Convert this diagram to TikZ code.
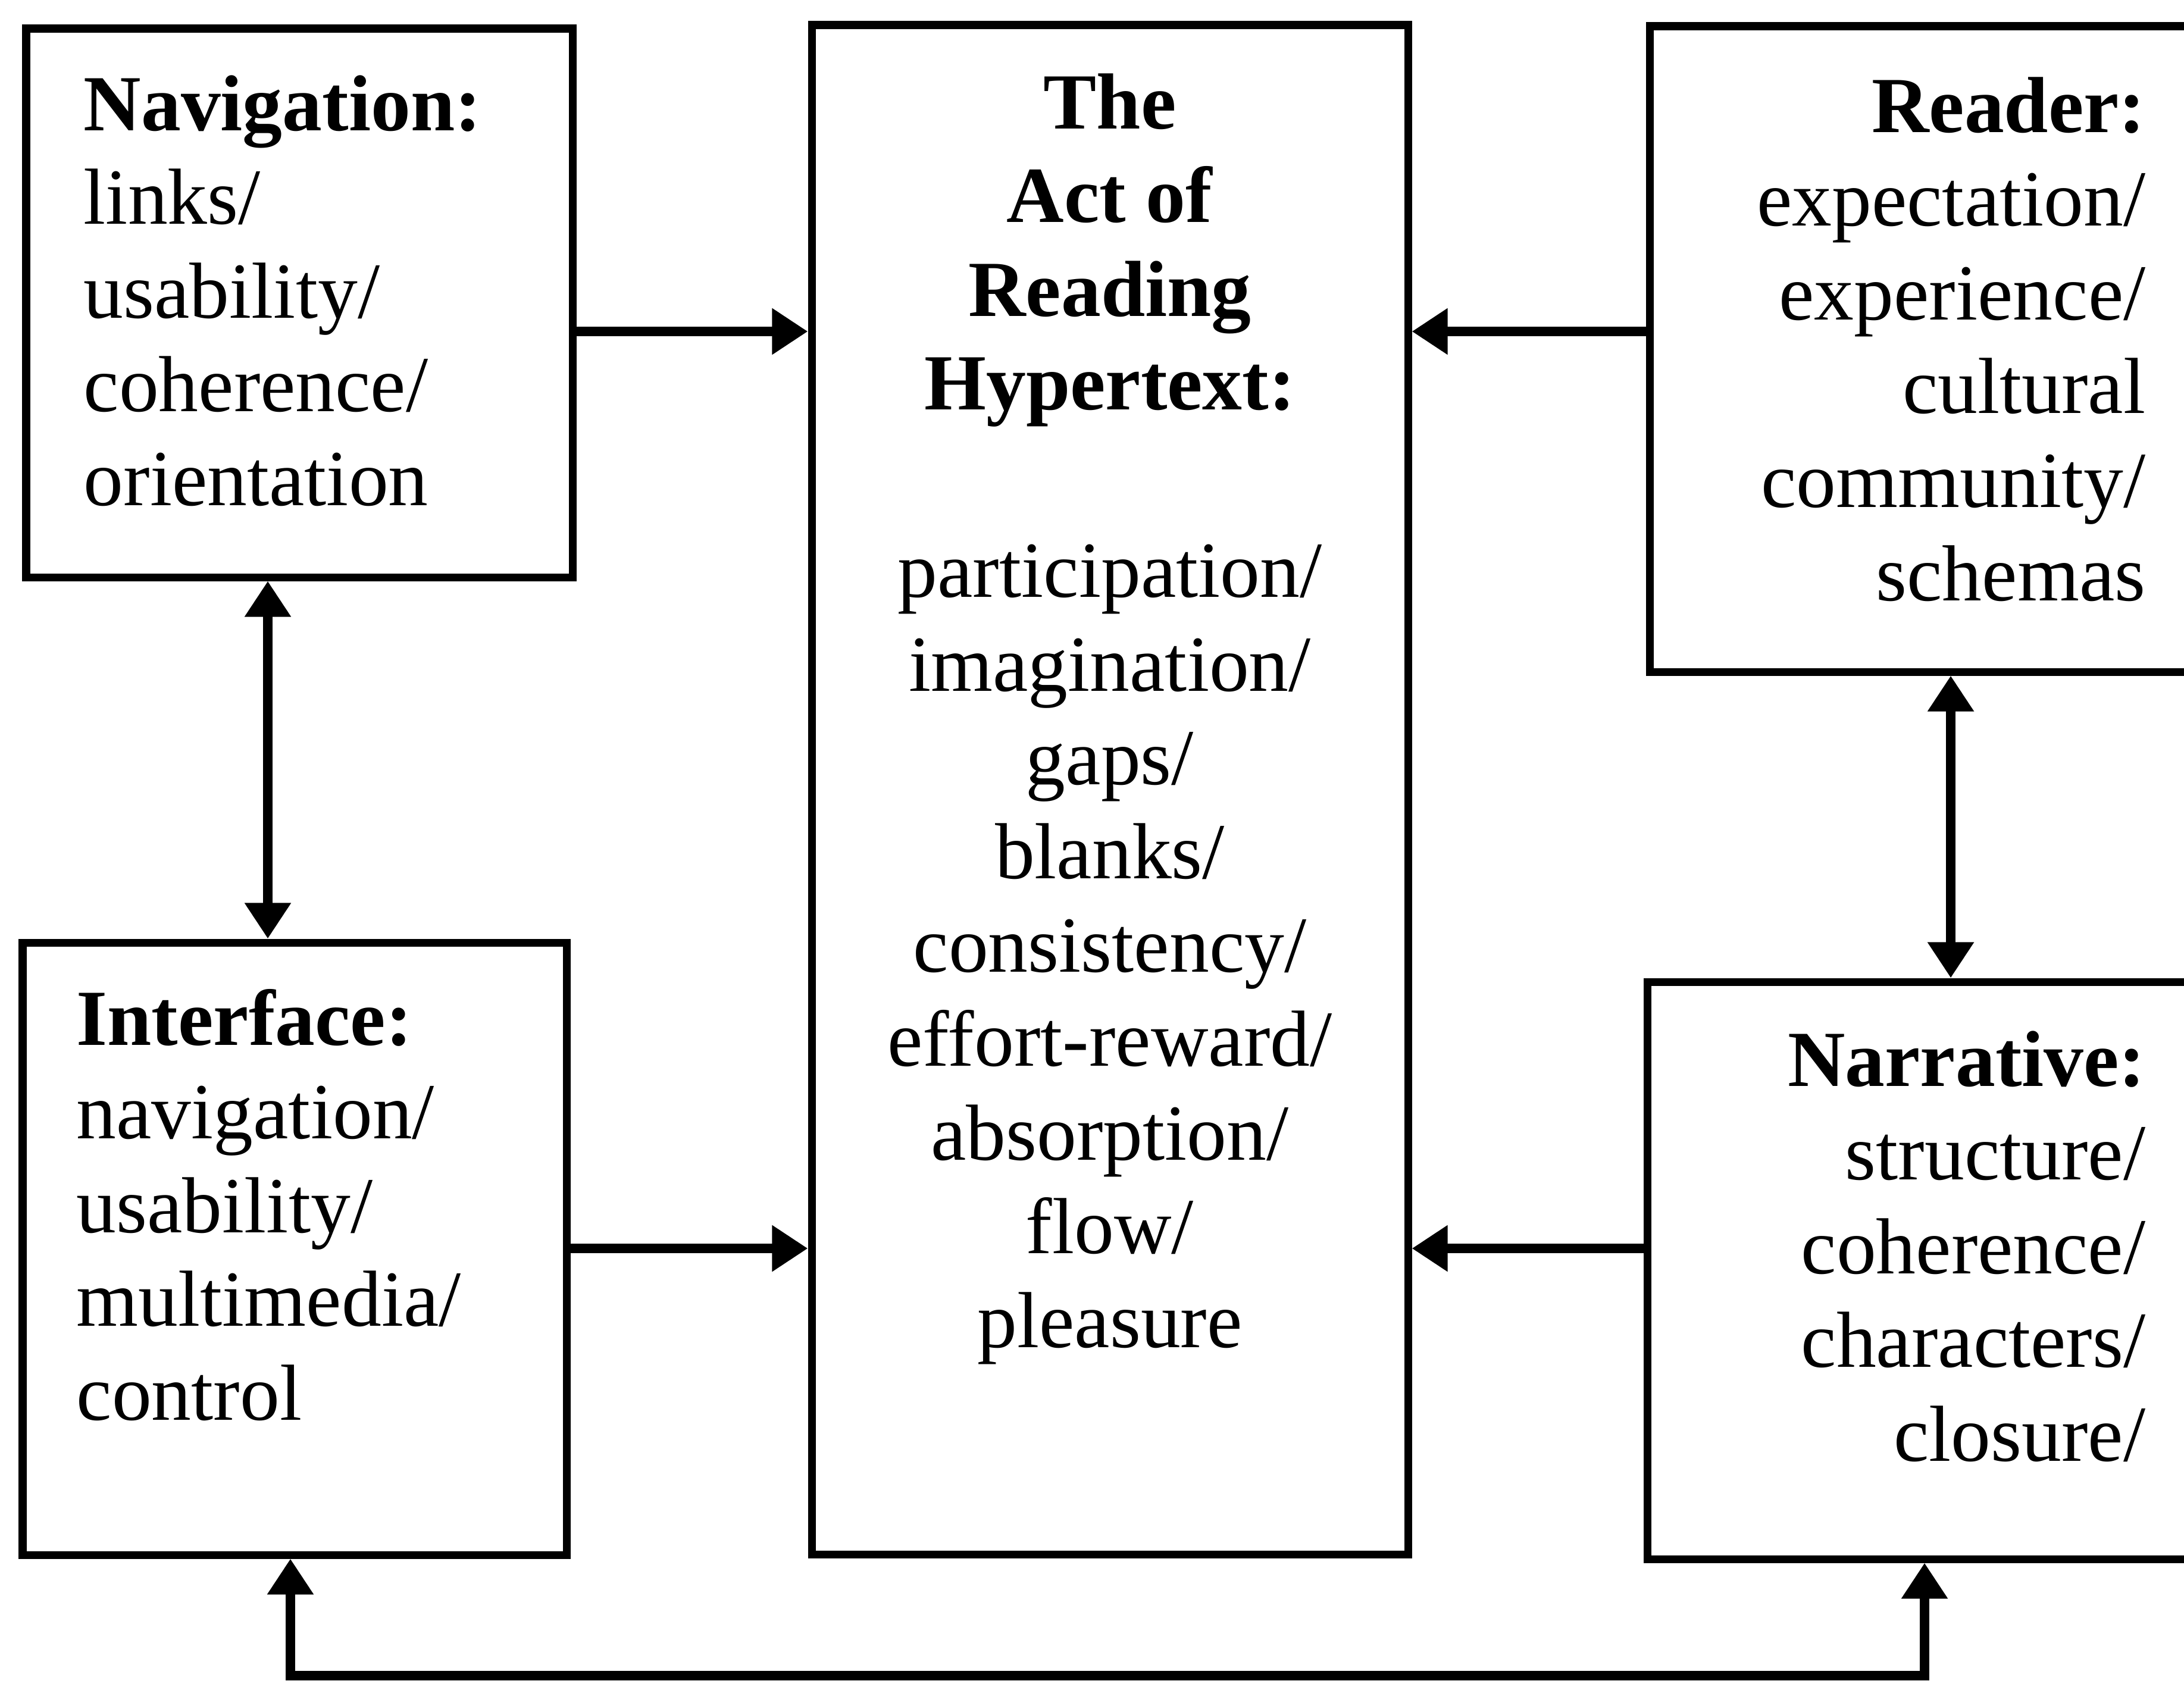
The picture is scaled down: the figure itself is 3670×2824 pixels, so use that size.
\documentclass[tikz,border=0pt]{standalone}
\usepackage{fontspec}
\setmainfont{Liberation Serif}
\usetikzlibrary{arrows.meta,fit}
\begin{document}
\begin{tikzpicture}[x=0.01cm,y=-0.01cm,
  box/.style={draw, line width=3.7pt, inner sep=0pt},
  txt/.style={inner sep=0pt, font=\fontsize{38}{44.8}\selectfont},
  conn/.style={line width=4.5pt},
  tip/.tip={Triangle[length=0.6cm,width=0.74cm]},
  arr/.style={conn, -tip},
  dbl/.style={conn, tip-tip}
]
\useasboundingbox (0,0) rectangle (3670,2824);

% boxes
\node[box, fit={(44,48) (962,970)}] (nav) {};
\node[box, fit={(38,1584) (952,2613)}] (iface) {};
\node[box, fit={(1364,42) (2366,2612)}] (act) {};
\node[box, fit={(2772,44) (3760,1129)}] (reader) {};
\node[box, fit={(2768,1650) (3760,2620)}] (narr) {};

% texts
\node[txt, anchor=base west] (navtxt) at (140,219) {\begin{tabular}[t]{@{}l@{}}
\textbf{Navigation:}\\ links/\\ usability/\\ coherence/\\ orientation\end{tabular}};
\node[txt, anchor=base west] (ifacetxt) at (128,1756) {\begin{tabular}[t]{@{}l@{}}
\textbf{Interface:}\\ navigation/\\ usability/\\ multimedia/\\ control\end{tabular}};
\node[txt, anchor=base] (acttxt) at (1865,216) {\begin{tabular}[t]{@{}c@{}}
\textbf{The}\\ \textbf{Act of}\\ \textbf{Reading}\\ \textbf{Hypertext:}\\ \\
participation/\\ imagination/\\ gaps/\\ blanks/\\ consistency/\\ effort-reward/\\ absorption/\\ flow/\\ pleasure\end{tabular}};
\node[txt, anchor=base east] (readertxt) at (3606,222) {\begin{tabular}[t]{@{}r@{}}
\textbf{Reader:}\\ expectation/\\ experience/\\ cultural\\ community/\\ schemas\end{tabular}};
\node[txt, anchor=base east] (narrtxt) at (3606,1825) {\begin{tabular}[t]{@{}r@{}}
\textbf{Narrative:}\\ structure/\\ coherence/\\ characters/\\ closure/\end{tabular}};

% helper coordinates
\coordinate (yTop) at (0,557);
\coordinate (yBot) at (0,2098);
\coordinate (xL) at (450,0);
\coordinate (xR) at (3278,0);
\coordinate (loopL) at (488,2816);
\coordinate (loopR) at (3234,2816);

% connectors
\draw[arr] (nav.east |- yTop) -- (act.west |- yTop);
\draw[arr] (reader.west |- yTop) -- (act.east |- yTop);
\draw[arr] (iface.east |- yBot) -- (act.west |- yBot);
\draw[arr] (narr.west |- yBot) -- (act.east |- yBot);
\draw[dbl] (nav.south -| xL) -- (iface.north -| xL);
\draw[dbl] (reader.south -| xR) -- (narr.north -| xR);
\draw[dbl] (iface.south -| loopL) -- (loopL) -- (loopR) -- (narr.south -| loopR);
\end{tikzpicture}
\end{document}
